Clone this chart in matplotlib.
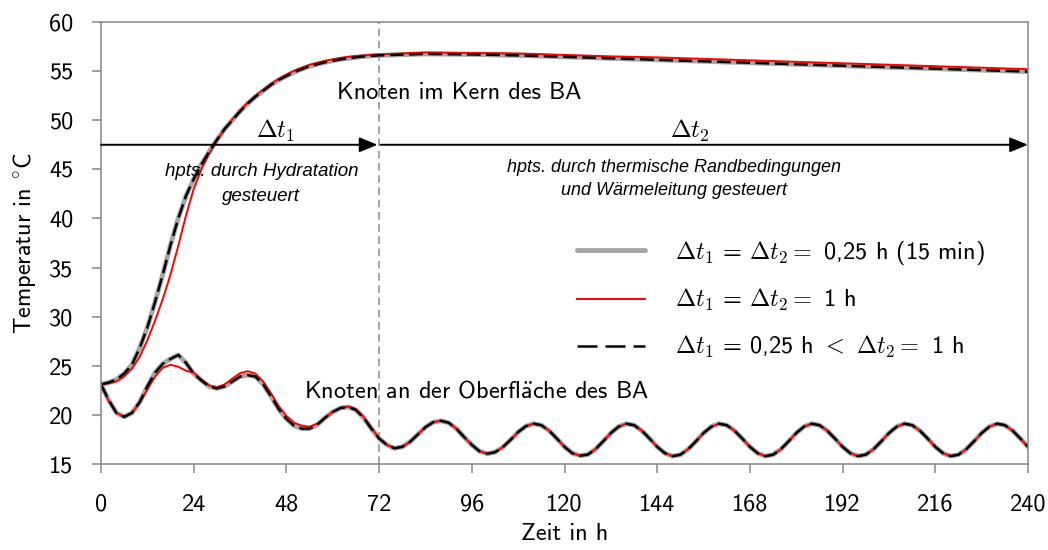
import matplotlib
matplotlib.use('Agg')
import matplotlib.pyplot as plt
from matplotlib.lines import Line2D
import numpy as np

plt.rcParams['font.family'] = ['cmss10', 'DejaVu Sans']
plt.rcParams['mathtext.fontset'] = 'cm'
plt.rcParams['axes.unicode_minus'] = False

# Zeit in h
t_head = np.arange(0, 73, 2)           # 0 ... 72 h
t_core_tail = np.arange(84, 241, 12)   # Kern, ab 84 h
t_surf_tail = np.arange(74, 241, 2)    # Oberflaeche, ab 74 h

# Knoten im Kern des BA
core_fine_head = [23.1, 23.3, 23.6, 24.2, 25.1, 26.8, 28.9, 31.5, 34.3, 37.3,
                  40.0, 42.3, 44.0, 45.5, 46.8, 48.0, 49.1, 50.0, 50.9, 51.7,
                  52.4, 53.0, 53.6, 54.1, 54.5, 54.9, 55.2, 55.5, 55.7, 55.9,
                  56.05, 56.2, 56.3, 56.4, 56.5, 56.55, 56.6]
core_fine_tail = [56.75, 56.7, 56.6, 56.45, 56.3, 56.15, 56.0, 55.85, 55.7,
                  55.55, 55.4, 55.25, 55.1, 54.95]
core_1h_head = [23.1, 23.2, 23.4, 23.9, 24.7, 25.9, 27.6, 29.6, 31.8, 34.3,
                37.2, 40.3, 43.0, 45.0, 46.6, 47.9, 49.1, 50.1, 51.0, 51.8,
                52.5, 53.1, 53.7, 54.2, 54.65, 55.05, 55.35, 55.65, 55.85, 56.05,
                56.2, 56.35, 56.45, 56.55, 56.6, 56.65, 56.7]
core_1h_tail = [56.9, 56.85, 56.8, 56.65, 56.5, 56.4, 56.25, 56.1, 55.95,
                55.8, 55.65, 55.5, 55.35, 55.2]
core_mix_head = core_fine_head
core_mix_tail = core_fine_tail

# Knoten an der Oberflaeche des BA
surf_fine_head = [23.1, 21.5, 20.2, 19.8, 20.2, 21.3, 22.9, 24.3, 25.2, 25.7,
                  26.1, 25.3, 24.2, 23.5, 22.9, 22.7, 22.9, 23.4, 23.9, 24.05,
                  23.9, 23.1, 21.9, 20.6, 19.6, 18.9, 18.6, 18.6, 19.0, 19.7,
                  20.3, 20.7, 20.8, 20.5, 19.7, 18.6, 17.6]
surf_1h_head = [23.1, 21.4, 20.2, 19.8, 20.2, 21.2, 22.6, 23.9, 24.8, 25.1,
                24.9, 24.5, 24.3, 23.6, 23.0, 22.8, 23.1, 23.7, 24.25, 24.45,
                24.2, 23.4, 22.2, 20.9, 19.9, 19.2, 18.9, 18.8, 19.1, 19.7,
                20.3, 20.7, 20.85, 20.6, 19.8, 18.7, 17.6]
surf_mix_head = surf_fine_head
surf_tail = [16.95, 16.6, 16.75, 17.25, 18.0, 18.75, 19.25, 19.4, 19.2, 18.6, 17.75,
             16.95, 16.3, 16.05, 16.2, 16.7, 17.45, 18.25, 18.85, 19.1, 18.95, 18.4, 17.6,
             16.75, 16.1, 15.85, 15.95, 16.5, 17.3, 18.15, 18.8, 19.1, 18.95, 18.4, 17.6,
             16.75, 16.1, 15.8, 15.95, 16.5, 17.3, 18.15, 18.8, 19.1, 18.95, 18.4, 17.6,
             16.75, 16.1, 15.8, 15.95, 16.5, 17.3, 18.15, 18.8, 19.1, 18.95, 18.4, 17.6,
             16.75, 16.1, 15.8, 15.95, 16.5, 17.3, 18.15, 18.8, 19.1, 18.95, 18.4, 17.6,
             16.75, 16.1, 15.8, 15.95, 16.5, 17.3, 18.15, 18.8, 19.1, 18.95, 18.4, 17.6,
             16.75]

labels = [r'$\Delta t_1$ = $\Delta t_2 =$ 0,25 h (15 min)',
          r'$\Delta t_1$ = $\Delta t_2 =$ 1 h',
          r'$\Delta t_1$ = 0,25 h $<$ $\Delta t_2 =$ 1 h']

t_core = np.concatenate([t_head, t_core_tail])
t_surf = np.concatenate([t_head, t_surf_tail])

fig = plt.figure(figsize=(10.48, 5.5), dpi=100)
ax = fig.add_axes([101 / 1048, 1 - 464 / 550, 927 / 1048, 442 / 550])

styles = [dict(color='#A6A6A6', lw=3.5, solid_capstyle='round'),
          dict(color='#FF0000', lw=1.4),
          dict(color='black', lw=1.8, dashes=(5.5, 2.2))]
cores = [(core_fine_head, core_fine_tail), (core_1h_head, core_1h_tail),
         (core_mix_head, core_mix_tail)]
surfs = [surf_fine_head, surf_1h_head, surf_mix_head]

for (ch, ct), sh, st in zip(cores, surfs, styles):
    ax.plot(t_core, np.concatenate([ch, ct]), **st)
    ax.plot(t_surf, np.concatenate([sh, surf_tail]), **st)

# Legendensymbole wie im Original (laengere Striche)
handles = [Line2D([], [], color='#A6A6A6', lw=3.5, solid_capstyle='round'),
           Line2D([], [], color='#FF0000', lw=1.4),
           Line2D([], [], color='black', lw=1.8, dashes=(8, 3.2))]

ax.axvline(72, color='#8C8C8C', lw=1.1, dashes=(5, 3), zorder=1)

# Pfeile fuer die Zeitschritte
arr = dict(arrowstyle='-|>,head_length=1.1,head_width=0.45', color='black',
           lw=1.4, shrinkA=0, shrinkB=0, mutation_scale=10)
ax.annotate('', xy=(71.6, 47.5), xytext=(0, 47.5), arrowprops=arr, annotation_clip=False)
ax.annotate('', xy=(240, 47.5), xytext=(72.4, 47.5), arrowprops=arr, annotation_clip=False)

ax.text(45.2, 48.9, r'$\Delta t_1$', fontsize=18, ha='center', va='center')
ax.text(152.5, 48.9, r'$\Delta t_2$', fontsize=18, ha='center', va='center')
ax.text(41.5, 43.5, 'hpts. durch Hydratation\ngesteuert', ha='center', va='center',
        fontsize=13.5, family='Liberation Sans', style='italic', linespacing=1.55)
ax.text(148.3, 44.0, 'hpts. durch thermische Randbedingungen\nund Wärmeleitung gesteuert',
        ha='center', va='center', fontsize=13, family='Liberation Sans', style='italic',
        linespacing=1.5)
ax.text(61.2, 52.8, 'Knoten im Kern des BA', fontsize=17.5, va='center')
ax.text(52.6, 22.4, r'Knoten an der Oberfl$\ddot{\mathsf{a}}$che des BA',
        fontsize=17.5, va='center')

ax.legend(handles=handles, labels=labels, loc='upper left', bbox_to_anchor=(0.5135, 0.51),
          frameon=False, fontsize=17.5, handlelength=2.8, handletextpad=1.25,
          labelspacing=0.85, borderpad=0, borderaxespad=0)

ax.set_xlim(0, 240)
ax.set_ylim(15, 60)
ax.set_xticks(range(0, 241, 24))
ax.set_yticks(range(15, 61, 5))
ax.tick_params(direction='out', length=6.5, width=1.1, color='#868686', labelsize=17.5)
ax.tick_params(axis='x', pad=15)
ax.tick_params(axis='y', pad=13.5)
for sp in ax.spines.values():
    sp.set_color('#868686')
    sp.set_linewidth(1.1)
ax.set_xlabel('Zeit in h', fontsize=17.5, labelpad=5)
ax.set_ylabel(r'Temperatur in $^{\circ}$C', fontsize=17.5, labelpad=8)

fig.savefig('out.png', dpi=100)
